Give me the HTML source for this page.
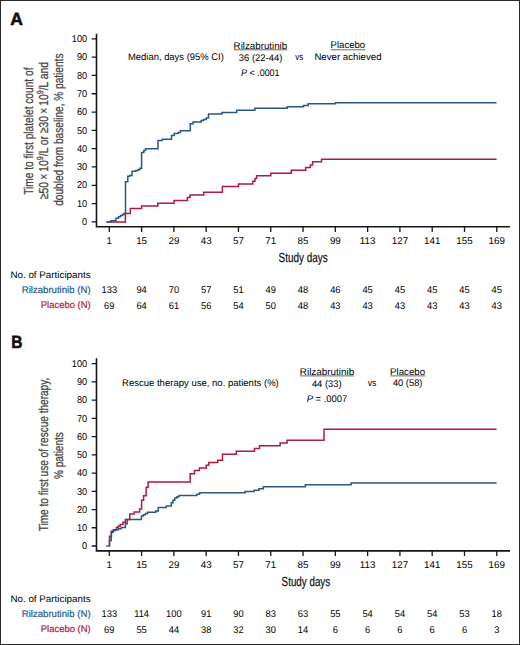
<!DOCTYPE html><html><head><meta charset="utf-8"><style>html,body{margin:0;padding:0;background:#fff}svg{display:block}text{font-family:"Liberation Sans",sans-serif;text-rendering:geometricPrecision}</style></head><body>
<svg width="520" height="645" viewBox="0 0 520 645">
<rect x="0.5" y="0.5" width="519" height="644" fill="#fff" stroke="#2a2a2a" stroke-width="1"/>
<text x="10.3" y="24.6" font-size="17.6" fill="#111" font-weight="bold" stroke="#111" stroke-width="0.6">A</text>
<path d="M96.5 33.8 V227.60000000000002 M95.7 226.8 H510" stroke="#161616" stroke-width="1.6" fill="none"/>
<path d="M91.7 221.9 H96.5 M91.7 203.59 H96.5 M91.7 185.28 H96.5 M91.7 166.97 H96.5 M91.7 148.66 H96.5 M91.7 130.35 H96.5 M91.7 112.04 H96.5 M91.7 93.73 H96.5 M91.7 75.42 H96.5 M91.7 57.11 H96.5 M91.7 38.8 H96.5 M109.30 226.8 V232.0 M141.59 226.8 V232.0 M173.88 226.8 V232.0 M206.17 226.8 V232.0 M238.46 226.8 V232.0 M270.75 226.8 V232.0 M303.04 226.8 V232.0 M335.33 226.8 V232.0 M367.62 226.8 V232.0 M399.91 226.8 V232.0 M432.20 226.8 V232.0 M464.49 226.8 V232.0 M496.78 226.8 V232.0 " stroke="#161616" stroke-width="1.3" fill="none"/>
<text transform="translate(87.1 225.10) scale(0.93 1)" font-size="9.9" text-anchor="end">0</text>
<text transform="translate(87.1 206.79) scale(0.93 1)" font-size="9.9" text-anchor="end">10</text>
<text transform="translate(87.1 188.48) scale(0.93 1)" font-size="9.9" text-anchor="end">20</text>
<text transform="translate(87.1 170.17) scale(0.93 1)" font-size="9.9" text-anchor="end">30</text>
<text transform="translate(87.1 151.86) scale(0.93 1)" font-size="9.9" text-anchor="end">40</text>
<text transform="translate(87.1 133.55) scale(0.93 1)" font-size="9.9" text-anchor="end">50</text>
<text transform="translate(87.1 115.24) scale(0.93 1)" font-size="9.9" text-anchor="end">60</text>
<text transform="translate(87.1 96.93) scale(0.93 1)" font-size="9.9" text-anchor="end">70</text>
<text transform="translate(87.1 78.62) scale(0.93 1)" font-size="9.9" text-anchor="end">80</text>
<text transform="translate(87.1 60.31) scale(0.93 1)" font-size="9.9" text-anchor="end">90</text>
<text transform="translate(87.1 42.00) scale(0.93 1)" font-size="9.9" text-anchor="end">100</text>
<text transform="translate(109.30 244.2) scale(1.0 1)" font-size="9.8" text-anchor="middle">1</text>
<text transform="translate(141.59 244.2) scale(1.0 1)" font-size="9.8" text-anchor="middle">15</text>
<text transform="translate(173.88 244.2) scale(1.0 1)" font-size="9.8" text-anchor="middle">29</text>
<text transform="translate(206.17 244.2) scale(1.0 1)" font-size="9.8" text-anchor="middle">43</text>
<text transform="translate(238.46 244.2) scale(1.0 1)" font-size="9.8" text-anchor="middle">57</text>
<text transform="translate(270.75 244.2) scale(1.0 1)" font-size="9.8" text-anchor="middle">71</text>
<text transform="translate(303.04 244.2) scale(1.0 1)" font-size="9.8" text-anchor="middle">85</text>
<text transform="translate(335.33 244.2) scale(1.0 1)" font-size="9.8" text-anchor="middle">99</text>
<text transform="translate(367.62 244.2) scale(1.0 1)" font-size="9.8" text-anchor="middle">113</text>
<text transform="translate(399.91 244.2) scale(1.0 1)" font-size="9.8" text-anchor="middle">127</text>
<text transform="translate(432.20 244.2) scale(1.0 1)" font-size="9.8" text-anchor="middle">141</text>
<text transform="translate(464.49 244.2) scale(1.0 1)" font-size="9.8" text-anchor="middle">155</text>
<text transform="translate(496.78 244.2) scale(1.0 1)" font-size="9.8" text-anchor="middle">169</text>
<text x="128.0" y="60.0" font-size="9.6" textLength="95.8" lengthAdjust="spacingAndGlyphs" >Median, days (95% CI)</text>
<text x="233.6" y="48.5" font-size="9.6" textLength="53.6" lengthAdjust="spacingAndGlyphs" >Rilzabrutinib</text>
<path d="M233.8 49.8 H287.2 M330.8 49.8 H365.2" stroke="#444444" stroke-width="0.8"/>
<text x="238.8" y="60.6" font-size="9.6" textLength="43.6" lengthAdjust="spacingAndGlyphs" >36 (22-44)</text>
<text x="295.2" y="60.0" font-size="9.6" textLength="8.0" lengthAdjust="spacingAndGlyphs" >vs</text>
<text x="330.6" y="48.3" font-size="9.6" textLength="34.6" lengthAdjust="spacingAndGlyphs" >Placebo</text>
<text x="314.4" y="59.9" font-size="9.6" textLength="67.2" lengthAdjust="spacingAndGlyphs" >Never achieved</text>
<text x="241" y="75.8" font-size="9.6" textLength="38.6" lengthAdjust="spacingAndGlyphs"><tspan font-style="italic">P</tspan> &lt; .0001</text>
<text transform="translate(32.8 131.2) rotate(-90)" x="0" y="0" font-size="13.0" text-anchor="middle" textLength="127.3" lengthAdjust="spacingAndGlyphs" fill="#444444" stroke="#444444" stroke-width="0.25">Time to first platelet count of</text>
<text transform="translate(48.0 130.5) rotate(-90)" x="0" y="0" font-size="13.0" text-anchor="middle" textLength="137.1" lengthAdjust="spacingAndGlyphs" fill="#444444" stroke="#444444" stroke-width="0.25">&#8805;50&#8201;&#215;&#8201;10<tspan font-size="9" dy="-5.2">9</tspan><tspan dy="5.2">/L or &#8805;30&#8201;&#215;&#8201;10</tspan><tspan font-size="9" dy="-5.2">9</tspan><tspan dy="5.2">/L and</tspan></text>
<text transform="translate(63.4 129.7) rotate(-90)" x="0" y="0" font-size="13.0" text-anchor="middle" textLength="152.3" lengthAdjust="spacingAndGlyphs" fill="#444444" stroke="#444444" stroke-width="0.25">doubled from baseline, % patients</text>
<text x="278.6" y="262.4" font-size="13.2" textLength="49.2" lengthAdjust="spacingAndGlyphs" stroke="#444" stroke-width="0.25">Study days</text>
<text x="10.4" y="277.8" font-size="9.6" textLength="80.2" lengthAdjust="spacingAndGlyphs" >No. of Participants</text>
<text x="21.7" y="292.8" font-size="9.6" textLength="68.9" lengthAdjust="spacingAndGlyphs" fill="#285c90" stroke="#285c90" stroke-width="0.2">Rilzabrutinib (N)</text>
<text x="40.8" y="308.0" font-size="9.6" textLength="49.8" lengthAdjust="spacingAndGlyphs" fill="#b8203f" stroke="#b8203f" stroke-width="0.2">Placebo (N)</text>
<text transform="translate(109.30 292.9) scale(0.95 1)" font-size="9.8" text-anchor="middle">133</text>
<text transform="translate(141.59 292.9) scale(0.95 1)" font-size="9.8" text-anchor="middle">94</text>
<text transform="translate(173.88 292.9) scale(0.95 1)" font-size="9.8" text-anchor="middle">70</text>
<text transform="translate(206.17 292.9) scale(0.95 1)" font-size="9.8" text-anchor="middle">57</text>
<text transform="translate(238.46 292.9) scale(0.95 1)" font-size="9.8" text-anchor="middle">51</text>
<text transform="translate(270.75 292.9) scale(0.95 1)" font-size="9.8" text-anchor="middle">49</text>
<text transform="translate(303.04 292.9) scale(0.95 1)" font-size="9.8" text-anchor="middle">48</text>
<text transform="translate(335.33 292.9) scale(0.95 1)" font-size="9.8" text-anchor="middle">46</text>
<text transform="translate(367.62 292.9) scale(0.95 1)" font-size="9.8" text-anchor="middle">45</text>
<text transform="translate(399.91 292.9) scale(0.95 1)" font-size="9.8" text-anchor="middle">45</text>
<text transform="translate(432.20 292.9) scale(0.95 1)" font-size="9.8" text-anchor="middle">45</text>
<text transform="translate(464.49 292.9) scale(0.95 1)" font-size="9.8" text-anchor="middle">45</text>
<text transform="translate(496.78 292.9) scale(0.95 1)" font-size="9.8" text-anchor="middle">45</text>
<text transform="translate(109.30 308.6) scale(0.95 1)" font-size="9.8" text-anchor="middle">69</text>
<text transform="translate(141.59 308.6) scale(0.95 1)" font-size="9.8" text-anchor="middle">64</text>
<text transform="translate(173.88 308.6) scale(0.95 1)" font-size="9.8" text-anchor="middle">61</text>
<text transform="translate(206.17 308.6) scale(0.95 1)" font-size="9.8" text-anchor="middle">56</text>
<text transform="translate(238.46 308.6) scale(0.95 1)" font-size="9.8" text-anchor="middle">54</text>
<text transform="translate(270.75 308.6) scale(0.95 1)" font-size="9.8" text-anchor="middle">50</text>
<text transform="translate(303.04 308.6) scale(0.95 1)" font-size="9.8" text-anchor="middle">48</text>
<text transform="translate(335.33 308.6) scale(0.95 1)" font-size="9.8" text-anchor="middle">43</text>
<text transform="translate(367.62 308.6) scale(0.95 1)" font-size="9.8" text-anchor="middle">43</text>
<text transform="translate(399.91 308.6) scale(0.95 1)" font-size="9.8" text-anchor="middle">43</text>
<text transform="translate(432.20 308.6) scale(0.95 1)" font-size="9.8" text-anchor="middle">43</text>
<text transform="translate(464.49 308.6) scale(0.95 1)" font-size="9.8" text-anchor="middle">43</text>
<text transform="translate(496.78 308.6) scale(0.95 1)" font-size="9.8" text-anchor="middle">43</text>
<path d="M106.5 221.9 H125.4 V213.6 H130.3 V208.5 H141.6 V205.9 H157.8 V203.2 H174 V200.5 H187.4 V197.6 H190.1 V195.1 H203.8 V192.3 H222.4 V186.5 H238.5 V184.1 H252.8 V181.2 H255 V178.5 H256.6 V175.8 H270.8 V173.2 H291.3 V170.3 H305.7 V167.6 H310.4 V164.9 H312.6 V161.8 H321.5 V159.2 H496.6" stroke="#ae1b42" stroke-width="1.5" fill="none"/>
<path d="M106.5 221.9 H111 V220.8 H116 V218.3 H118.5 V216.8 H120.5 V215.6 H122.5 V214.6 H124 V213.6 H125.5 V181.8 H127.8 V176.3 H129.7 V175.5 H132 V171.2 H135.8 V170.6 H138.2 V169.5 H140 V168.3 H141.6 V152.5 H143.8 V150.4 H145.5 V148.7 H158 V140.4 H162.3 V139.2 H171.5 V135.4 H174.2 V133.5 H178.1 V132.4 H180.4 V130.8 H190.3 V123.8 H193.1 V122.0 H201.2 V120.6 H203.5 V119.4 H206.2 V117.9 H208.5 V114.1 H221.9 V112.4 H236.7 V110.2 H254.9 V108.2 H287.2 V106.8 H303.5 V105.5 H308.2 V103.7 H335.5 V102.8 H496.6" stroke="#2b5682" stroke-width="1.5" fill="none"/>
<text transform="translate(11.2 348.3) scale(0.88 1)" font-size="17.6" font-weight="bold" fill="#111" stroke="#111" stroke-width="0.6">B</text>
<path d="M96.5 358.2 V551.6999999999999 M95.7 550.9 H510" stroke="#161616" stroke-width="1.6" fill="none"/>
<path d="M91.7 546.0 H96.5 M91.7 527.77 H96.5 M91.7 509.54 H96.5 M91.7 491.31 H96.5 M91.7 473.08 H96.5 M91.7 454.85 H96.5 M91.7 436.62 H96.5 M91.7 418.39 H96.5 M91.7 400.16 H96.5 M91.7 381.93 H96.5 M91.7 363.7 H96.5 M109.30 550.9 V556.1 M141.59 550.9 V556.1 M173.88 550.9 V556.1 M206.17 550.9 V556.1 M238.46 550.9 V556.1 M270.75 550.9 V556.1 M303.04 550.9 V556.1 M335.33 550.9 V556.1 M367.62 550.9 V556.1 M399.91 550.9 V556.1 M432.20 550.9 V556.1 M464.49 550.9 V556.1 M496.78 550.9 V556.1 " stroke="#161616" stroke-width="1.3" fill="none"/>
<text transform="translate(87.1 549.20) scale(0.93 1)" font-size="9.9" text-anchor="end">0</text>
<text transform="translate(87.1 530.97) scale(0.93 1)" font-size="9.9" text-anchor="end">10</text>
<text transform="translate(87.1 512.74) scale(0.93 1)" font-size="9.9" text-anchor="end">20</text>
<text transform="translate(87.1 494.51) scale(0.93 1)" font-size="9.9" text-anchor="end">30</text>
<text transform="translate(87.1 476.28) scale(0.93 1)" font-size="9.9" text-anchor="end">40</text>
<text transform="translate(87.1 458.05) scale(0.93 1)" font-size="9.9" text-anchor="end">50</text>
<text transform="translate(87.1 439.82) scale(0.93 1)" font-size="9.9" text-anchor="end">60</text>
<text transform="translate(87.1 421.59) scale(0.93 1)" font-size="9.9" text-anchor="end">70</text>
<text transform="translate(87.1 403.36) scale(0.93 1)" font-size="9.9" text-anchor="end">80</text>
<text transform="translate(87.1 385.13) scale(0.93 1)" font-size="9.9" text-anchor="end">90</text>
<text transform="translate(87.1 366.90) scale(0.93 1)" font-size="9.9" text-anchor="end">100</text>
<text transform="translate(109.30 567.7) scale(1.0 1)" font-size="9.8" text-anchor="middle">1</text>
<text transform="translate(141.59 567.7) scale(1.0 1)" font-size="9.8" text-anchor="middle">15</text>
<text transform="translate(173.88 567.7) scale(1.0 1)" font-size="9.8" text-anchor="middle">29</text>
<text transform="translate(206.17 567.7) scale(1.0 1)" font-size="9.8" text-anchor="middle">43</text>
<text transform="translate(238.46 567.7) scale(1.0 1)" font-size="9.8" text-anchor="middle">57</text>
<text transform="translate(270.75 567.7) scale(1.0 1)" font-size="9.8" text-anchor="middle">71</text>
<text transform="translate(303.04 567.7) scale(1.0 1)" font-size="9.8" text-anchor="middle">85</text>
<text transform="translate(335.33 567.7) scale(1.0 1)" font-size="9.8" text-anchor="middle">99</text>
<text transform="translate(367.62 567.7) scale(1.0 1)" font-size="9.8" text-anchor="middle">113</text>
<text transform="translate(399.91 567.7) scale(1.0 1)" font-size="9.8" text-anchor="middle">127</text>
<text transform="translate(432.20 567.7) scale(1.0 1)" font-size="9.8" text-anchor="middle">141</text>
<text transform="translate(464.49 567.7) scale(1.0 1)" font-size="9.8" text-anchor="middle">155</text>
<text transform="translate(496.78 567.7) scale(1.0 1)" font-size="9.8" text-anchor="middle">169</text>
<text x="122.0" y="386.3" font-size="9.6" textLength="156.8" lengthAdjust="spacingAndGlyphs" >Rescue therapy use, no. patients (%)</text>
<text x="299.8" y="374.6" font-size="9.6" textLength="54.4" lengthAdjust="spacingAndGlyphs" >Rilzabrutinib</text>
<path d="M300 375.9 H354.2 M390.3 375.9 H425.2" stroke="#444444" stroke-width="0.8"/>
<text x="311.9" y="386.5" font-size="9.6" textLength="29.8" lengthAdjust="spacingAndGlyphs" >44 (33)</text>
<text x="367.7" y="386.2" font-size="9.6" textLength="8.6" lengthAdjust="spacingAndGlyphs" >vs</text>
<text x="390.1" y="374.5" font-size="9.6" textLength="35.0" lengthAdjust="spacingAndGlyphs" >Placebo</text>
<text x="392.9" y="385.8" font-size="9.6" textLength="29.6" lengthAdjust="spacingAndGlyphs" >40 (58)</text>
<text x="306.7" y="401.5" font-size="9.6" textLength="40.6" lengthAdjust="spacingAndGlyphs"><tspan font-style="italic">P</tspan> = .0007</text>
<text transform="translate(48.0 454.5) rotate(-90)" x="0" y="0" font-size="13.0" text-anchor="middle" textLength="153.5" lengthAdjust="spacingAndGlyphs" fill="#444444" stroke="#444444" stroke-width="0.25">Time to first use of rescue therapy,</text>
<text transform="translate(62.9 455.6) rotate(-90)" x="0" y="0" font-size="12.8" text-anchor="middle" textLength="46.8" lengthAdjust="spacingAndGlyphs" fill="#444444" stroke="#444444" stroke-width="0.25">% patients</text>
<text x="281.6" y="585.8" font-size="13.2" textLength="48.6" lengthAdjust="spacingAndGlyphs" stroke="#444" stroke-width="0.25">Study days</text>
<text x="10.4" y="602.1" font-size="9.6" textLength="80.2" lengthAdjust="spacingAndGlyphs" >No. of Participants</text>
<text x="21.7" y="617.1" font-size="9.6" textLength="68.9" lengthAdjust="spacingAndGlyphs" fill="#285c90" stroke="#285c90" stroke-width="0.2">Rilzabrutinib (N)</text>
<text x="40.8" y="632.1" font-size="9.6" textLength="49.8" lengthAdjust="spacingAndGlyphs" fill="#b8203f" stroke="#b8203f" stroke-width="0.2">Placebo (N)</text>
<text transform="translate(109.30 617.4) scale(0.95 1)" font-size="9.8" text-anchor="middle">133</text>
<text transform="translate(141.59 617.4) scale(0.95 1)" font-size="9.8" text-anchor="middle">114</text>
<text transform="translate(173.88 617.4) scale(0.95 1)" font-size="9.8" text-anchor="middle">100</text>
<text transform="translate(206.17 617.4) scale(0.95 1)" font-size="9.8" text-anchor="middle">91</text>
<text transform="translate(238.46 617.4) scale(0.95 1)" font-size="9.8" text-anchor="middle">90</text>
<text transform="translate(270.75 617.4) scale(0.95 1)" font-size="9.8" text-anchor="middle">83</text>
<text transform="translate(303.04 617.4) scale(0.95 1)" font-size="9.8" text-anchor="middle">63</text>
<text transform="translate(335.33 617.4) scale(0.95 1)" font-size="9.8" text-anchor="middle">55</text>
<text transform="translate(367.62 617.4) scale(0.95 1)" font-size="9.8" text-anchor="middle">54</text>
<text transform="translate(399.91 617.4) scale(0.95 1)" font-size="9.8" text-anchor="middle">54</text>
<text transform="translate(432.20 617.4) scale(0.95 1)" font-size="9.8" text-anchor="middle">54</text>
<text transform="translate(464.49 617.4) scale(0.95 1)" font-size="9.8" text-anchor="middle">53</text>
<text transform="translate(496.78 617.4) scale(0.95 1)" font-size="9.8" text-anchor="middle">18</text>
<text transform="translate(109.30 632.7) scale(0.95 1)" font-size="9.8" text-anchor="middle">69</text>
<text transform="translate(141.59 632.7) scale(0.95 1)" font-size="9.8" text-anchor="middle">55</text>
<text transform="translate(173.88 632.7) scale(0.95 1)" font-size="9.8" text-anchor="middle">44</text>
<text transform="translate(206.17 632.7) scale(0.95 1)" font-size="9.8" text-anchor="middle">38</text>
<text transform="translate(238.46 632.7) scale(0.95 1)" font-size="9.8" text-anchor="middle">32</text>
<text transform="translate(270.75 632.7) scale(0.95 1)" font-size="9.8" text-anchor="middle">30</text>
<text transform="translate(303.04 632.7) scale(0.95 1)" font-size="9.8" text-anchor="middle">14</text>
<text transform="translate(335.33 632.7) scale(0.95 1)" font-size="9.8" text-anchor="middle">6</text>
<text transform="translate(367.62 632.7) scale(0.95 1)" font-size="9.8" text-anchor="middle">6</text>
<text transform="translate(399.91 632.7) scale(0.95 1)" font-size="9.8" text-anchor="middle">6</text>
<text transform="translate(432.20 632.7) scale(0.95 1)" font-size="9.8" text-anchor="middle">6</text>
<text transform="translate(464.49 632.7) scale(0.95 1)" font-size="9.8" text-anchor="middle">6</text>
<text transform="translate(496.78 632.7) scale(0.95 1)" font-size="9.8" text-anchor="middle">3</text>
<path d="M109.5 546.1 V540.4 H111.2 V531.2 H113.5 V529.7 H116.4 V527.4 H118.2 V526 H120.2 V524.5 H123 V522.2 H125.4 V519.6 H129.8 V514 H134.1 V511.9 H139.6 V508.9 H141.6 V500.3 H143.6 V495.8 H146.1 V487.2 H148.1 V482 H190.2 V473.7 H194.5 V470.6 H199.4 V468.1 H206.3 V465.2 H208.7 V462.5 H217.7 V460.2 H222.5 V454.2 H236.3 V451.2 H254.5 V448.5 H259.5 V445.8 H280.1 V442.9 H287.1 V440.2 H324 V429.2 H496.6" stroke="#ae1b42" stroke-width="1.5" fill="none"/>
<path d="M106.3 546.1 H109.5 V536.3 H111.5 V532.3 H113.2 V530.6 H115.5 V529.7 H118.4 V528.8 H121.3 V527.6 H125.4 V523.7 H127.2 V519.5 H141.4 V516 H143.5 V514.8 H145.5 V513.5 H147.6 V512.3 H155.7 V510.9 H158.2 V507.4 H166.3 V506 H171.3 V502.8 H173 V500.2 H174.8 V498 H177 V496.8 H179 V495.6 H196.9 V494.2 H199.6 V492.8 H245.1 V491.6 H254.2 V490.2 H258.9 V488.7 H263.4 V486.8 H305.4 V484.7 H351.1 V482.9 H496.6" stroke="#2b5682" stroke-width="1.5" fill="none"/>
</svg></body></html>
